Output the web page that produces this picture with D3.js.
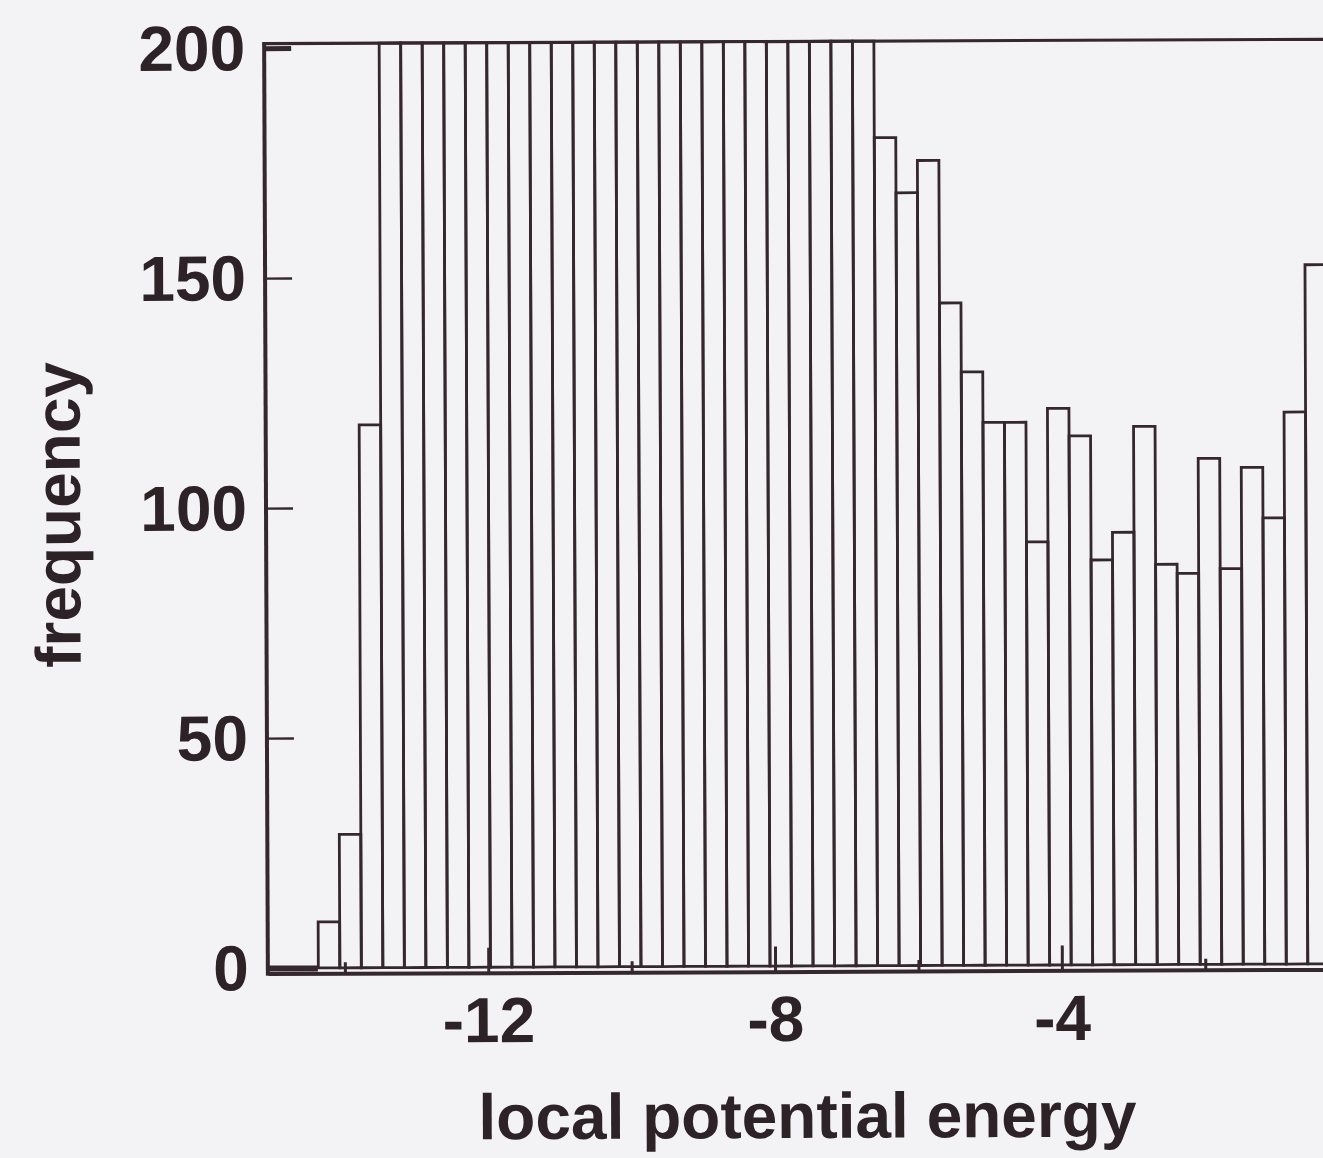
<!DOCTYPE html>
<html>
<head>
<meta charset="utf-8">
<script src="https://cdn.jsdelivr.net/npm/d3@7"></script>
<style>
  html, body { margin: 0; padding: 0; background: #f3f2f4; }
  svg { display: block; }
</style>
</head>
<body>
<svg id="chart" width="1323" height="1158"></svg>
<script>
// Histogram of local potential energy: bins of width 0.3 starting at -14.37.
const binStart = -14.37;
const binWidth = 0.3;
// Counts per bin; bins that run off the top of the frame are recorded at the frame top (201).
const counts = [
  10, 29, 118,
  201, 201, 201, 201, 201, 201, 201, 201, 201, 201, 201, 201,
  201, 201, 201, 201, 201, 201, 201, 201, 201, 201, 201,
  180, 168, 175, 144, 129, 118, 118, 92, 121, 115, 88, 94,
  117, 87, 85, 110, 86, 108, 97, 120, 152
];
const xMajorTicks = [-12, -8, -4];
const xMinorTicks = [-14, -10, -6, -2];
const yTicks = [0, 50, 100, 150, 200];
const xTitle = "local potential energy";
const yTitle = "frequency";

const ink = "#35272e";
const textInk = "#2d2327";
const paper = "#f3f2f4";
const font = "'Liberation Sans', Arial, Helvetica, sans-serif";

const svg = d3.select("#chart");
svg.append("rect").attr("width", 1323).attr("height", 1158).attr("fill", paper);

// the whole figure sits very slightly turned on the page
const g = svg.append("g").attr("transform", "rotate(-0.23 795 505)");

const x = d3.scaleLinear().domain([-15.074, 0.5]).range([266, 1382.65]);
const y = d3.scaleLinear().domain([0, 201]).range([966, 41.4]);

const bins = counts.map((c, i) => ({
  x0: binStart + i * binWidth,
  x1: binStart + (i + 1) * binWidth,
  count: c
}));

// bars
g.append("g")
  .selectAll("rect")
  .data(bins)
  .join("rect")
  .attr("x", d => x(d.x0))
  .attr("width", d => x(d.x1) - x(d.x0))
  .attr("y", d => y(d.count))
  .attr("height", d => y(0) - y(d.count))
  .attr("fill", "none")
  .attr("stroke", ink)
  .attr("stroke-width", 2.8);

// frame: top edge and left axis line
const xAxisY = 971.5;
g.append("line")
  .attr("x1", x.range()[0]).attr("x2", x.range()[1])
  .attr("y1", y(201)).attr("y2", y(201))
  .attr("stroke", ink).attr("stroke-width", 3.2);
g.append("line")
  .attr("x1", x.range()[0]).attr("x2", x.range()[0])
  .attr("y1", y(201) - 1.6).attr("y2", xAxisY + 2)
  .attr("stroke", ink).attr("stroke-width", 4);

// bottom axis: long inward ticks with labels, short inward minor ticks
const xAxis = g.append("g")
  .attr("transform", `translate(0,${xAxisY})`)
  .call(d3.axisBottom(x).tickValues(xMajorTicks).tickSize(-25).tickSizeOuter(0)
    .tickPadding(24));
xAxis.select(".domain").attr("stroke", ink).attr("stroke-width", 4);
xAxis.selectAll(".tick line").attr("stroke", ink).attr("stroke-width", 3);
xAxis.selectAll(".tick text")
  .attr("fill", textInk)
  .style("font-family", font).style("font-weight", "bold").style("font-size", "64px")
  .text(d => String(d));

const xMinor = g.append("g")
  .attr("transform", `translate(0,${xAxisY})`)
  .call(d3.axisBottom(x).tickValues(xMinorTicks).tickSize(-11).tickSizeOuter(0).tickFormat(""));
xMinor.select(".domain").remove();
xMinor.selectAll(".tick line").attr("stroke", ink).attr("stroke-width", 3);

// left axis: inward ticks, heavier marks at 0 and 200
const yAxis = g.append("g")
  .attr("transform", `translate(${x.range()[0]},0)`)
  .call(d3.axisLeft(y).tickValues(yTicks).tickSize(-27).tickSizeOuter(0).tickPadding(19));
yAxis.select(".domain").remove();
yAxis.selectAll(".tick line")
  .attr("stroke", ink)
  .attr("stroke-width", d => (d === 200 ? 5 : d === 0 ? 6 : 2.4))
  .attr("x2", d => (d === 0 ? 50 : 27));
yAxis.selectAll(".tick text")
  .attr("fill", textInk)
  .attr("dy", "0.34em")
  .style("font-family", font).style("font-weight", "bold").style("font-size", "64px");

// axis titles
g.append("text")
  .attr("x", 805).attr("y", 1138)
  .attr("text-anchor", "middle")
  .attr("fill", textInk)
  .style("font-family", font).style("font-weight", "bold").style("font-size", "64px")
  .text(xTitle);

g.append("text")
  .attr("transform", "translate(80,512) rotate(-90)")
  .attr("text-anchor", "middle")
  .attr("fill", textInk)
  .style("font-family", font).style("font-weight", "bold").style("font-size", "64px")
  .text(yTitle);
</script>
</body>
</html>
